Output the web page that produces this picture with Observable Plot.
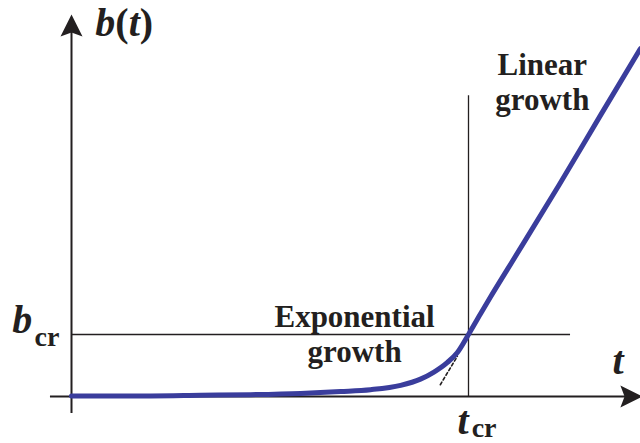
<!DOCTYPE html>
<html>
<head>
<meta charset="utf-8">
<script src="https://cdn.jsdelivr.net/npm/d3@7"></script>
<script src="https://cdn.jsdelivr.net/npm/@observablehq/plot@0.6"></script>
<style>html, body { margin: 0; background: #fff; }</style>
</head>
<body>
<div id="chart"></div>
<script>
// Growth curve b(t): slow exponential rise, then linear growth past t_cr
const tCurve = [0, 1.99, 3.25, 4.51, 5.77, 6.78, 7.53, 8.29, 8.79, 9.12, 9.47, 9.72, 10, 10.30, 10.55, 10.98, 12.27, 13.32, 14.33];
const bCurve = [0.01, 0.01, 0.02, 0.03, 0.05, 0.08, 0.11, 0.18, 0.28, 0.39, 0.55, 0.71, 1.0, 1.33, 1.60, 2.05, 3.40, 4.53, 5.61];

// Pure exponential continuation (dashed) just below t_cr
const tExp = [9.29, 9.72];
const bExp = [0.19, 0.65];

// Critical point
const tCr = 10;
const bCr = 1;

const curve = tCurve.map((t, i) => ({t, b: bCurve[i]}));
const expTail = tExp.map((t, i) => ({t, b: bExp[i]}));

const ink = "#231f20";
const blue = "#3a3d9c";
const face = "serif";

// Filled arrowhead with a notched back, tip at the origin, pointing up
const arrowHead = {
  draw(context, size) {
    const r = Math.sqrt(size / Math.PI);
    context.moveTo(0, 0);
    context.lineTo(-r, 2 * r);
    context.lineTo(0, 1.62 * r);
    context.lineTo(r, 2 * r);
    context.closePath();
  }
};

const label = (str, x, y, opts) => Plot.text([str], {
  x: [x], y: [y], text: [str], textAnchor: "start", lineAnchor: "bottom",
  fontWeight: "bold", fontFamily: face, fill: ink, ...opts
});

const chart = Plot.plot({
  width: 640,
  height: 443,
  style: {fontFamily: face},
  x: {domain: [0, 10], range: [71, 468], axis: null},
  y: {domain: [0, 1], range: [396, 334], axis: null},
  marks: [
    // axes
    Plot.ruleX([0], {y1: -0.274, y2: 5.95, stroke: ink, strokeWidth: 2}),
    Plot.ruleY([0], {x1: -0.53, x2: 14.1, stroke: ink, strokeWidth: 2}),
    Plot.dot([{t: 0, b: 6.16}], {x: "t", y: "b", symbol: arrowHead, r: 11, fill: ink, stroke: "none"}),
    Plot.dot([{t: 14.38, b: 0}], {x: "t", y: "b", symbol: arrowHead, r: 11, rotate: 90, fill: ink, stroke: "none"}),
    // critical level and time
    Plot.ruleY([bCr], {x1: 0, x2: 12.57, stroke: ink, strokeWidth: 1.3}),
    Plot.ruleX([tCr], {y1: 0, y2: 4.85, stroke: ink, strokeWidth: 1.3}),
    // exponential continuation
    Plot.line(expTail, {x: "t", y: "b", stroke: ink, strokeWidth: 1.6, strokeDasharray: "3,2.5"}),
    // b(t)
    Plot.line(curve, {x: "t", y: "b", stroke: blue, strokeWidth: 5, curve: "monotone-x"}),
    // labels
    label("b(t)", 0.6, 5.81, {fontSize: 40}),
    label("b", -1.49, 1.02, {fontSize: 40, fontStyle: "italic"}),
    label("cr", -0.93, 0.82, {fontSize: 28}),
    label("t", 13.63, 0.37, {fontSize: 40, fontStyle: "italic"}),
    label("t", 9.72, -0.60, {fontSize: 40, fontStyle: "italic"}),
    label("cr", 10.08, -0.65, {fontSize: 28}),
    label("Linear\ngrowth", 11.86, 5.23, {textAnchor: "middle", lineAnchor: "top", dy: -21, lineHeight: 1.1, fontSize: 31}),
    label("Exponential\ngrowth", 7.13, 1.18, {textAnchor: "middle", lineAnchor: "top", dy: -21, lineHeight: 1.13, fontSize: 31})
  ]
});

// Mixed italic / upright glyphs in the vertical axis label
d3.select(chart).selectAll("text").filter(function () { return this.textContent === "b(t)"; })
  .each(function () {
    const el = d3.select(this).text(null);
    [["b", "italic"], ["(", "normal"], ["t", "italic"], [")", "normal"]].forEach(([s, st]) => {
      el.append("tspan").attr("font-style", st).text(s);
    });
  });

document.getElementById("chart").appendChild(chart);
</script>
</body>
</html>
